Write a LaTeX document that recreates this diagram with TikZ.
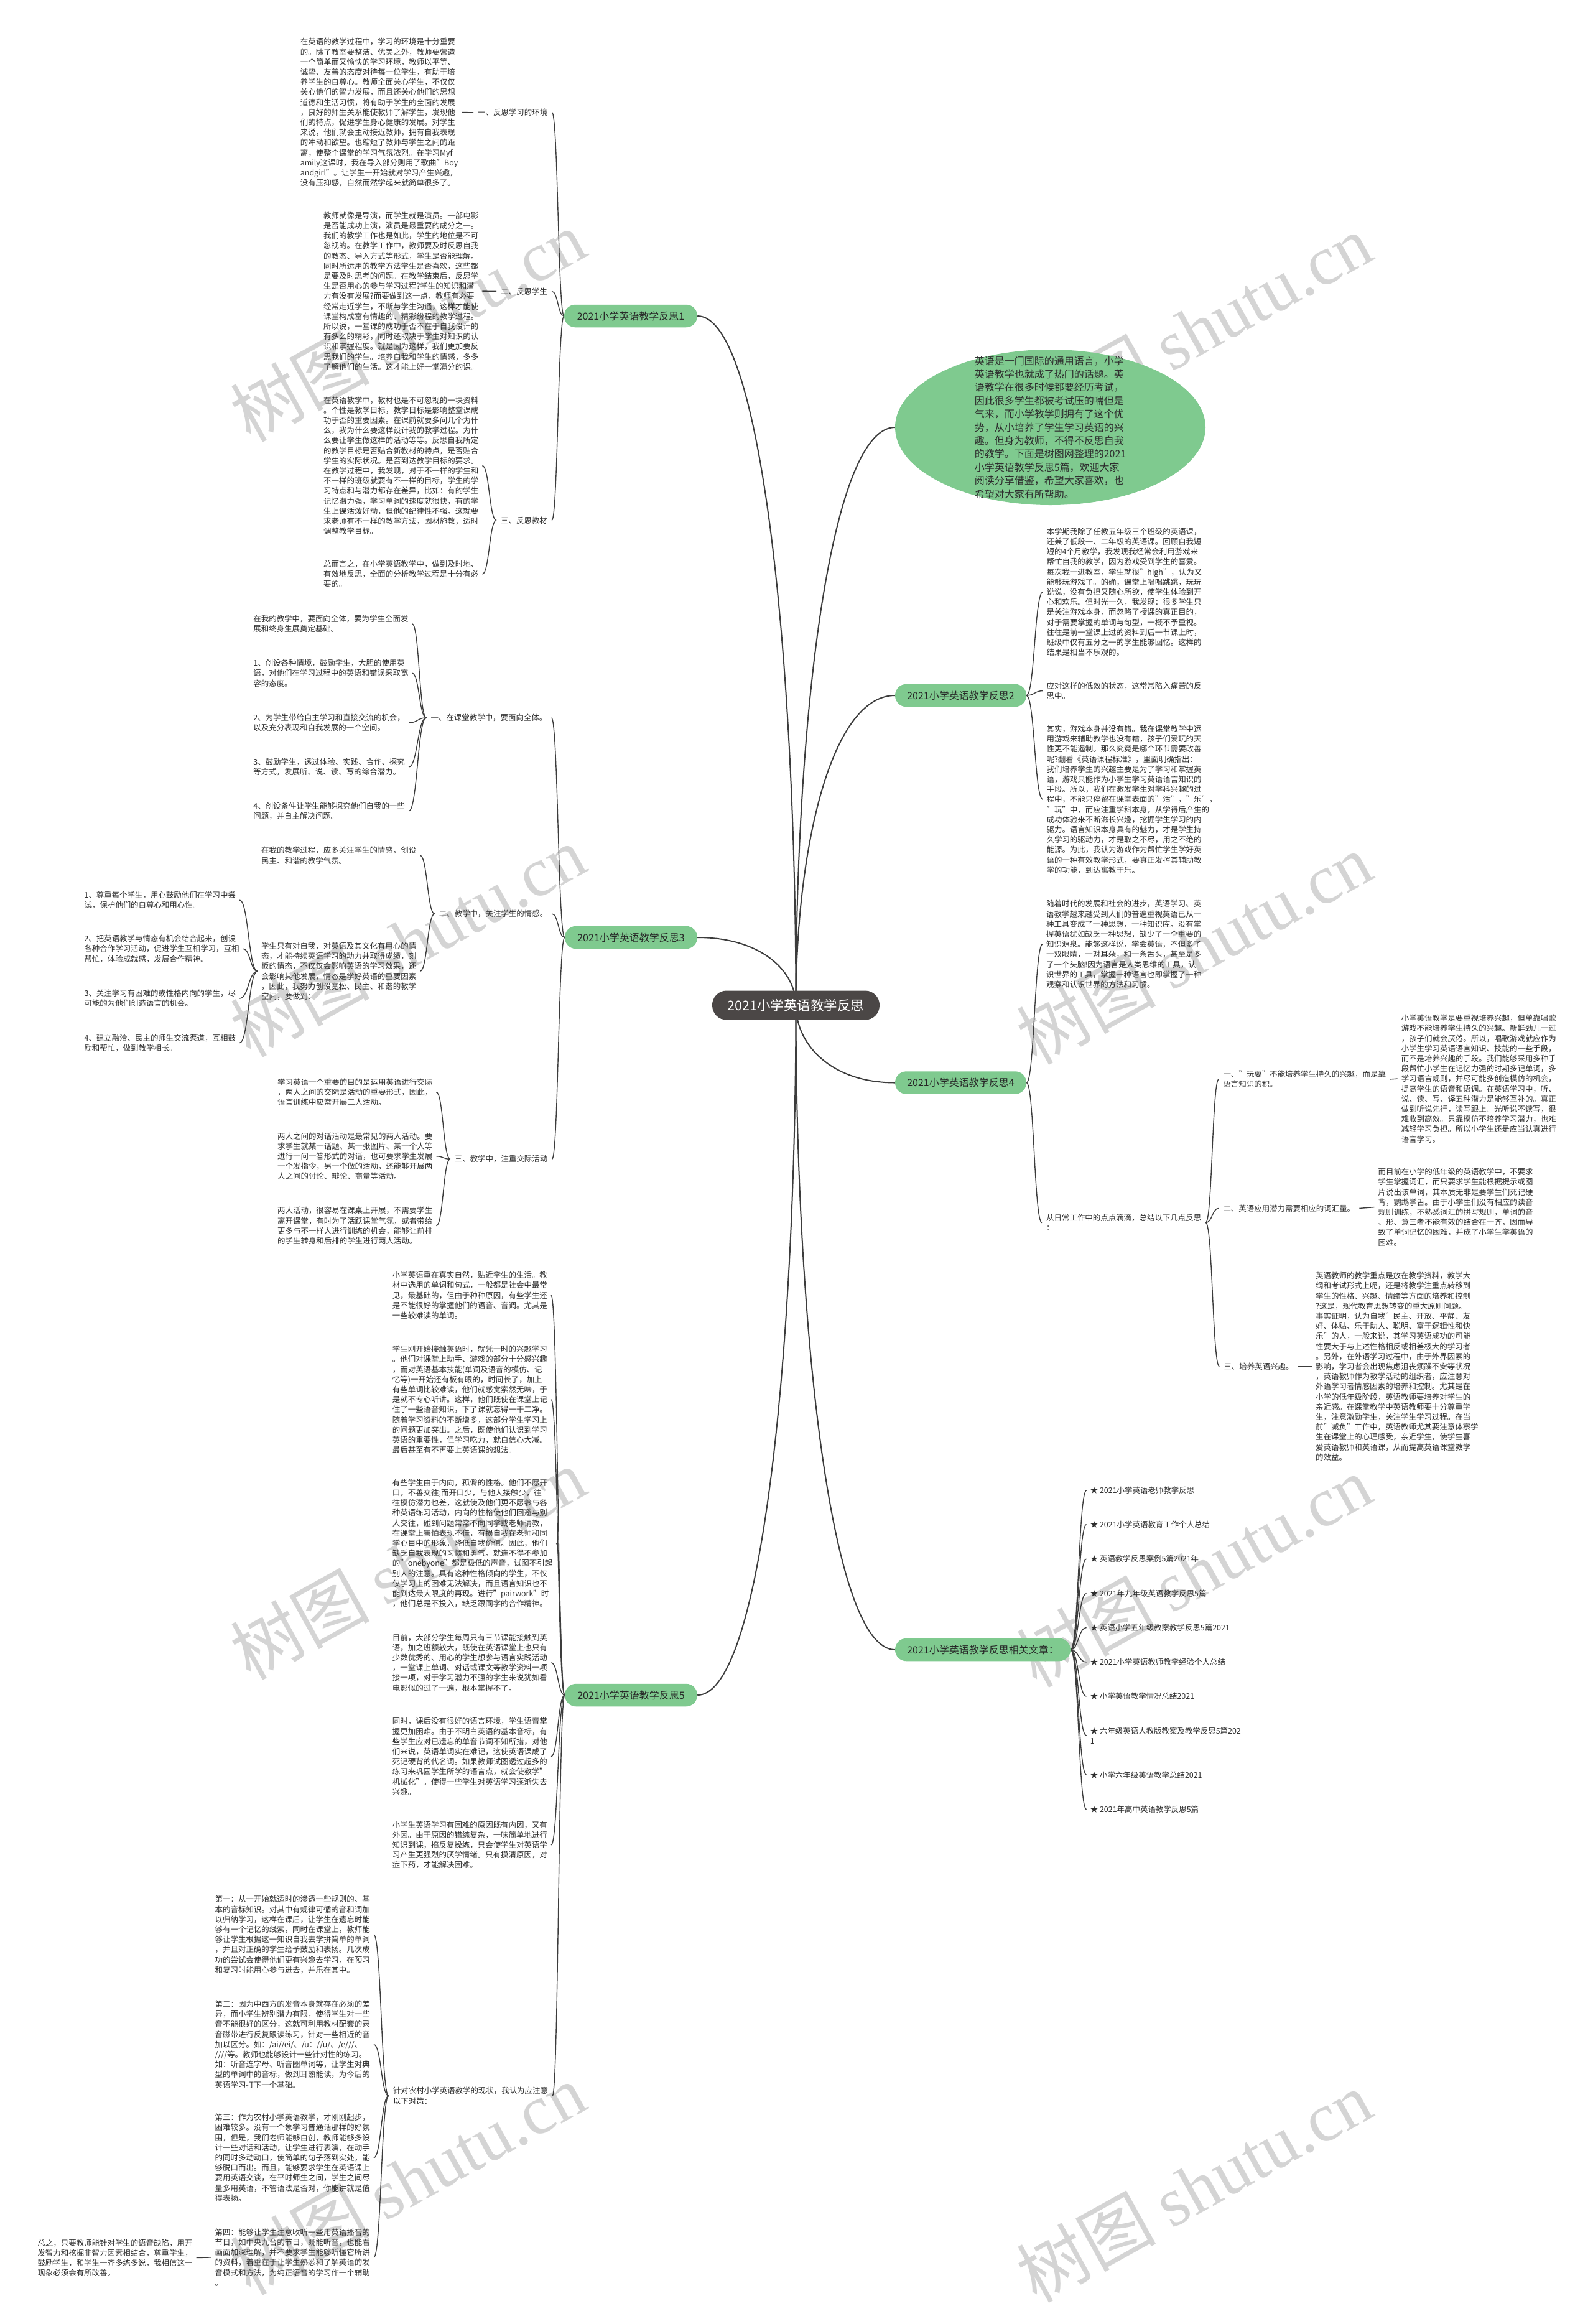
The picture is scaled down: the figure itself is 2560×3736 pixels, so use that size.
\documentclass[tikz,border=0pt]{standalone}
\usepackage{fontspec}
\setmainfont{Noto Sans CJK SC}
\newfontfamily\wmlatin{Liberation Serif}
\usetikzlibrary{calc,shapes.geometric}
\definecolor{grn}{RGB}{127,202,143}
\definecolor{txtc}{RGB}{45,45,45}
\definecolor{lnc}{RGB}{60,60,60}
\definecolor{ctrc}{RGB}{75,71,70}
\definecolor{wmc}{RGB}{212,212,212}
\pgfdeclarelayer{paper}\pgfdeclarelayer{lines}\pgfsetlayers{paper,lines,main}
\newcommand\blkfont{\fontsize{12.45}{16.2}\selectfont}
\newcommand\sublink[2]{\draw[subc] let \p1=(#1), \p2=(#2) in (\p1) .. controls ({(\x1+\x2)/2},\y1) and ({(\x1+\x2)/2},\y2) .. (\p2);}
\newcommand\mainlink[2]{\draw[mainc] let \p1=(#1), \p2=(#2) in (\p1) .. controls (\x1,{(\y1+\y2)/2}) and ({\x1+0.35*(\x2-\x1)},\y2) .. (\p2);}
\begin{document}
\begin{tikzpicture}[x=1pt,y=-1pt,
  txt/.style={font=\blkfont, text=txtc, align=left, inner xsep=6pt, inner ysep=1pt, anchor=west},
  lbl/.style={font=\blkfont, text=txtc, align=left, inner xsep=7pt, inner ysep=1pt, anchor=west},
  br/.style={fill=grn, rounded corners=18pt, minimum height=36.5pt, inner sep=0pt, font=\fontsize{16}{19}\selectfont, text=black!85},
  ctrnode/.style={fill=ctrc, text=white, rounded corners=23pt, minimum width=269pt, minimum height=47pt, inner sep=0pt, font=\fontsize{21.5}{24}\selectfont},
  mainc/.style={draw=lnc, line width=2pt},
  subc/.style={draw=lnc, line width=1.4pt},
  wmk/.style={text=wmc, font=\fontsize{112}{120}\selectfont, inner sep=0pt}]
\useasboundingbox (0,0) rectangle (2560,3736);
\begin{pgfonlayer}{paper}
\fill[white] (0,0) rectangle (2560,3736);
\node[wmk, rotate=29] (w1) at (655,524) {树图 {\wmlatin shutu.cn}};
\node[wmk, rotate=29] (w2) at (1919,530) {树图 {\wmlatin shutu.cn}};
\node[wmk, rotate=29] (w3) at (655,1513) {树图 {\wmlatin shutu.cn}};
\node[wmk, rotate=29] (w4) at (1919,1525) {树图 {\wmlatin shutu.cn}};
\node[wmk, rotate=29] (w5) at (655,2514) {树图 {\wmlatin shutu.cn}};
\node[wmk, rotate=29] (w6) at (1919,2526) {树图 {\wmlatin shutu.cn}};
\node[wmk, rotate=29] (w7) at (655,3503) {树图 {\wmlatin shutu.cn}};
\node[wmk, rotate=29] (w8) at (1919,3515) {树图 {\wmlatin shutu.cn}};
\end{pgfonlayer}

% centre and branches
\node[ctrnode] (c) at (1279.5,1616) {2021小学英语教学反思};
\node[ellipse, fill=grn, minimum width=499pt, minimum height=250pt, inner sep=0pt] (intro) at (1688.5,687) {};
\node[font=\fontsize{16}{21.4}\selectfont, text=txtc, align=left, inner sep=0pt] (introtxt) at (intro.center) {英语是一门国际的通用语言，小学\\英语教学也就成了热门的话题。英\\语教学在很多时候都要经历考试，\\因此很多学生都被考试压的喘但是\\气来，而小学教学则拥有了这个优\\势，从小培养了学生学习英语的兴\\趣。但身为教师，不得不反思自我\\的教学。下面是树图网整理的2021\\小学英语教学反思5篇，欢迎大家\\阅读分享借鉴，希望大家喜欢，也\\希望对大家有所帮助。};
\node[br, minimum width=214pt] (b1) at (1014,508) {2021小学英语教学反思1};
\node[br, minimum width=213pt] (b3) at (1014.5,1507) {2021小学英语教学反思3};
\node[br, minimum width=213pt] (b5) at (1014.5,2725) {2021小学英语教学反思5};
\node[br, minimum width=211pt] (b2) at (1544.5,1118) {2021小学英语教学反思2};
\node[br, minimum width=211pt] (b4) at (1544.5,1740.5) {2021小学英语教学反思4};
\node[br, minimum width=282pt] (b6) at (1580,2652) {2021小学英语教学反思相关文章：};

% ---------- branch 1
\node[lbl] (a1) at (761,180.8) {一、反思学习的环境};
\node[lbl] (a2) at (798,468.4) {二、反思学生};
\node[lbl] (a3) at (798,836.4) {三、反思教材};
\node[txt] (a1t) at (476.7,180.6) {在英语的教学过程中，学习的环境是十分重要\\的。除了教室要整洁、优美之外，教师要营造\\一个简单而又愉快的学习环境，教师以平等、\\诚挚、友善的态度对待每一位学生，有助于培\\养学生的自尊心。教师全面关心学生，不仅仅\\关心他们的智力发展，而且还关心他们的思想\\道德和生活习惯，将有助于学生的全面的发展\\，良好的师生关系能使教师了解学生，发现他\\们的特点，促进学生身心健康的发展。对学生\\来说，他们就会主动接近教师，拥有自我表现\\的冲动和欲望。也缩短了教师与学生之间的距\\离，使整个课堂的学习气氛浓烈。在学习Myf\\amily这课时，我在导入部分则用了歌曲"Boy\\andgirl"。让学生一开始就对学习产生兴趣，\\没有压抑感，自然而然学起来就简单很多了。};
\node[txt] (a2t) at (514,468.1) {教师就像是导演，而学生就是演员。一部电影\\是否能成功上演，演员是最重要的成分之一。\\我们的教学工作也是如此，学生的地位是不可\\忽视的。在教学工作中，教师要及时反思自我\\的教态、导入方式等形式，学生是否能理解。\\同时所运用的教学方法学生是否喜欢，这些都\\是要及时思考的问题。在教学结束后，反思学\\生是否用心的参与学习过程?学生的知识和潜\\力有没有发展?而要做到这一点，教师有必要\\经常走近学生，不断与学生沟通，这样才能使\\课堂构成富有情趣的、精彩纷程的教学过程。\\所以说，一堂课的成功于否不在于自我设计的\\有多么的精彩，同时还取决于学生对知识的认\\识和掌握程度。就是因为这样，我们更加要反\\思我们的学生。培养自我和学生的情感，多多\\了解他们的生活。这才能上好一堂满分的课。};
\node[txt] (a3t1) at (514,748.6) {在英语教学中，教材也是不可忽视的一块资料\\。个性是教学目标，教学目标是影响整堂课成\\功于否的重要因素。在课前就要多问几个为什\\么，我为什么要这样设计我的教学过程。为什\\么要让学生做这样的活动等等。反思自我所定\\的教学目标是否贴合新教材的特点，是否贴合\\学生的实际状况。是否到达教学目标的要求。\\在教学过程中，我发现，对于不一样的学生和\\不一样的班级就要有不一样的目标，学生的学\\习特点和与潜力都存在差异，比如：有的学生\\记忆潜力强，学习单词的速度就很快，有的学\\生上课活泼好动，但他的纪律性不强。这就要\\求老师有不一样的教学方法，因材施教，适时\\调整教学目标。};
\node[txt] (a3t2) at (514,922.9) {总而言之，在小学英语教学中，做到及时地、\\有效地反思，全面的分析教学过程是十分有必\\要的。};

% ---------- branch 3
\node[lbl] (b1l) at (685.4,1153.9) {一、在课堂教学中，要面向全体。};
\node[lbl] (b2l) at (698.7,1469) {二、教学中，关注学生的情感。};
\node[lbl] (b3l) at (723.7,1863.3) {三、教学中，注重交际活动};
\node[txt] (b1a) at (401.2,1002.7) {在我的教学中，要面向全体，要为学生全面发\\展和终身生展奠定基础。};
\node[txt] (b1b) at (401.2,1082.2) {1、创设各种情境，鼓励学生，大胆的使用英\\语，对他们在学习过程中的英语和错误采取宽\\容的态度。};
\node[txt] (b1c) at (401.2,1162) {2、为学生带给自主学习和直接交流的机会，\\以及充分表现和自我发展的一个空间。};
\node[txt] (b1d) at (401.2,1233) {3、鼓励学生，透过体验、实践、合作、探究\\等方式，发展听、说、读、写的综合潜力。};
\node[txt] (b1e) at (401.2,1304) {4、创设条件让学生能够探究他们自我的一些\\问题，并自主解决问题。};
\node[txt] (b2a) at (414,1375.2) {在我的教学过程，应多关注学生的情感，创设\\民主、和谐的教学气氛。};
\node[txt] (b2b) at (414,1561.3) {学生只有对自我，对英语及其文化有用心的情\\态，才能持续英语学习的动力并取得成绩，刻\\板的情态，不仅仅会影响英语的学习效果，还\\会影响其他发展，情态是学好英语的重要因素\\，因此，我努力创设宽松、民主、和谐的教学\\空间，要做到：};
\node[txt] (b2b1) at (129.3,1447) {1、尊重每个学生，用心鼓励他们在学习中尝\\试，保护他们的自尊心和用心性。};
\node[txt] (b2b2) at (129.3,1525.2) {2、把英语教学与情态有机会结合起来，创设\\各种合作学习活动，促进学生互相学习，互相\\帮忙，体验成就感，发展合作精神。};
\node[txt] (b2b3) at (129.3,1605) {3、关注学习有困难的或性格内向的学生，尽\\可能的为他们创造语言的机会。};
\node[txt] (b2b4) at (129.3,1676.5) {4、建立融洽、民主的师生交流渠道，互相鼓\\励和帮忙，做到教学相长。};
\node[txt] (b3a) at (440,1755.7) {学习英语一个重要的目的是运用英语进行交际\\，两人之间的交际是活动的重要形式，因此，\\语言训练中应常开展二人活动。};
\node[txt] (b3b) at (440,1858.7) {两人之间的对话活动是最常见的两人活动。要\\求学生就某一话题、某一张图片、某一个人等\\进行一问一答形式的对话，也可要求学生发展\\一个发指令，另一个做的活动，还能够开展两\\人之间的讨论、辩论、商量等活动。};
\node[txt] (b3c) at (440,1970.5) {两人活动，很容易在课桌上开展，不需要学生\\离开课堂，有时为了活跃课堂气氛，或者带给\\更多与不一样人进行训练的机会，能够让前排\\的学生转身和后排的学生进行两人活动。};

% ---------- branch 5
\node[txt] (c1) at (624.7,2082.4) {小学英语重在真实自然，贴近学生的生活。教\\材中选用的单词和句式，一般都是社会中最常\\见，最基础的，但由于种种原因，有些学生还\\是不能很好的掌握他们的语音、音调。尤其是\\一些较难读的单词。};
\node[txt] (c2) at (624.7,2249.8) {学生刚开始接触英语时，就凭一时的兴趣学习\\。他们对课堂上动手、游戏的部分十分感兴趣\\，而对英语基本技能(单词及语音的模仿、记\\忆等)一开始还有板有眼的，时间长了，加上\\有些单词比较难读，他们就感觉索然无味，于\\是就不专心听讲。这样，他们既使在课堂上记\\住了一些语音知识，下了课就忘得一干二净。\\随着学习资料的不断增多，这部分学生学习上\\的问题更加突出。之后，既使他们认识到学习\\英语的重要性，但学习吃力，就自信心大减。\\最后甚至有不再要上英语课的想法。};
\node[txt] (c3) at (624.7,2480.8) {有些学生由于内向，孤僻的性格。他们不愿开\\口，不善交往;而开口少，与他人接触少，往\\往模仿潜力也差，这就使及他们更不愿参与各\\种英语练习活动，内向的性格使他们回避与别\\人交往，碰到问题常常不向同学或老师请教，\\在课堂上害怕表现不佳，有损自我在老师和同\\学心目中的形象，降低自我价值。因此，他们\\缺乏自我表现的习惯和勇气。就连不得不参加\\的"onebyone"都是极低的声音，试图不引起\\别人的注意。具有这种性格倾向的学生，不仅\\仅学习上的困难无法解决，而且语言知识也不\\能到达最大限度的再现。进行"pairwork"时\\，他们总是不投入，缺乏跟同学的合作精神。};
\node[txt] (c4) at (624.7,2673) {目前，大部分学生每周只有三节课能接触到英\\语，加之班额较大，既使在英语课堂上也只有\\少数优秀的、用心的学生想参与语言实践活动\\，一堂课上单词、对话或课文等教学资料一项\\接一项，对于学习潜力不强的学生来说犹如看\\电影似的过了一遍，根本掌握不了。};
\node[txt] (c5) at (624.7,2823.7) {同时，课后没有很好的语言环境，学生语音掌\\握更加困难。由于不明白英语的基本音标，有\\些学生应对已遗忘的单音节词不知所措，对他\\们来说，英语单词实在难记，这使英语课成了\\死记硬背的代名词。如果教师试图透过超多的\\练习来巩固学生所学的语言点，就会使教学"\\机械化"。使得一些学生对英语学习逐渐失去\\兴趣。};
\node[txt] (c6) at (624.7,2965.8) {小学生英语学习有困难的原因既有内因，又有\\外因。由于原因的错综复杂，一味简单地进行\\知识到课，搞反复操练，只会使学生对英语学\\习产生更强烈的厌学情绪。只有摸清原因，对\\症下药，才能解决困难。};
\node[lbl] (c7l) at (624.8,3369.3) {针对农村小学英语教学的现状，我认为应注意\\以下对策：};
\node[txt] (c7a) at (339.5,3110) {第一：从一开始就适时的渗透一些规则的、基\\本的音标知识。对其中有规律可循的音和词加\\以归纳学习，这样在课后，让学生在遗忘时能\\够有一个记忆的线索，同时在课堂上，教师能\\够让学生根据这一知识自我去学拼简单的单词\\，并且对正确的学生给予鼓励和表扬。几次成\\功的尝试会使得他们更有兴趣去学习，在预习\\和复习时能用心参与进去，并乐在其中。};
\node[txt] (c7b) at (339.5,3286.5) {第二：因为中西方的发音本身就存在必须的差\\异，而小学生辨别潜力有限，使得学生对一些\\音不能很好的区分，这就可利用教材配套的录\\音磁带进行反复跟读练习，针对一些相近的音\\加以区分。如：/ai//ei/、/u：//u/、/e///、\\////等。教师也能够设计一些针对性的练习。\\如：听音连字母、听音圈单词等，让学生对典\\型的单词中的音标，做到耳熟能读，为今后的\\英语学习打下一个基础。};
\node[txt] (c7c) at (339.5,3468.7) {第三：作为农村小学英语教学，才刚刚起步，\\困难较多。没有一个象学习普通话那样的好氛\\围，但是，我们老师能够自创，教师能够多设\\计一些对话和活动，让学生进行表演，在动手\\的同时多动动口，使简单的句子落到实处，能\\够脱口而出。而且，能够要求学生在英语课上\\要用英语交谈，在平时师生之间，学生之间尽\\量多用英语，不管语法是否对，你能讲就是值\\得表扬。};
\node[txt] (c7d) at (339.5,3628.9) {第四：能够让学生注意收听一些用英语播音的\\节目，如中央九台的节目，既能听音，也能看\\画面加深理解，并不要求学生能够听懂它所讲\\的资料，着重在于让学生熟悉和了解英语的发\\音模式和方法，为纯正语音的学习作一个辅助\\。};
\node[txt] (c8) at (54.3,3629.5) {总之，只要教师能针对学生的语音缺陷，用开\\发智力和挖掘非智力因素相结合，尊重学生，\\鼓励学生，和学生一齐多练多说，我相信这一\\现象必须会有所改善。};

% ---------- branch 2
\node[txt] (d1) at (1676.4,951.7) {本学期我除了任教五年级三个班级的英语课，\\还兼了低段一、二年级的英语课。回顾自我短\\短的4个月教学，我发现我经常会利用游戏来\\帮忙自我的教学，因为游戏受到学生的喜爱。\\每次我一进教室，学生就很"high"，认为又\\能够玩游戏了。的确，课堂上唱唱跳跳，玩玩\\说说，没有负担又随心所欲，使学生体验到开\\心和欢乐。但时光一久，我发现：很多学生只\\是关注游戏本身，而忽略了授课的真正目的，\\对于需要掌握的单词与句型，一概不予重视。\\往往是前一堂课上过的资料到后一节课上时，\\班级中仅有五分之一的学生能够回忆。这样的\\结果是相当不乐观的。};
\node[txt] (d2) at (1676.4,1110.6) {应对这样的低效的状态，这常常陷入痛苦的反\\思中。};
\node[txt] (d3) at (1676.4,1285.2) {其实，游戏本身并没有错。我在课堂教学中运\\用游戏来辅助教学也没有错，孩子们爱玩的天\\性更不能遏制。那么究竟是哪个环节需要改善\\呢?翻看《英语课程标准》，里面明确指出：\\我们培养学生的兴趣主要是为了学习和掌握英\\语，游戏只能作为小学生学习英语语言知识的\\手段。所以，我们在激发学生对学科兴趣的过\\程中，不能只停留在课堂表面的"活"，"乐"，\\"玩"中，而应注重学科本身，从学得后产生的\\成功体验来不断滋长兴趣，挖掘学生学习的内\\驱力。语言知识本身具有的魅力，才是学生持\\久学习的驱动力，才是取之不尽，用之不绝的\\能源。为此，我认为游戏作为帮忙学生学好英\\语的一种有效教学形式，要真正发挥其辅助教\\学的功能，到达寓教于乐。};

% ---------- branch 4
\node[txt] (e1) at (1676,1517.9) {随着时代的发展和社会的进步，英语学习、英\\语教学越来越受到人们的普遍重视英语已从一\\种工具变成了一种思想，一种知识库。没有掌\\握英语犹如缺乏一种思想，缺少了一个重要的\\知识源泉。能够这样说，学会英语，不但多了\\一双眼睛，一对耳朵，和一条舌头，甚至是多\\了一个头脑!因为语言是人类思维的工具，认\\识世界的工具，掌握一种语言也即掌握了一种\\观察和认识世界的方法和习惯。};
\node[lbl] (e2l) at (1675,1965.5) {从日常工作中的点点滴滴，总结以下几点反思\\：};
\node[lbl] (e2a) at (1959.3,1734.9) {一、"玩耍"不能培养学生持久的兴趣，而是靠\\语言知识的积。};
\node[lbl] (e2b) at (1959.3,1942.4) {二、英语应用潜力需要相应的词汇量。};
\node[lbl] (e2c) at (1960.3,2196.7) {三、培养英语兴趣。};
\node[txt] (e2at) at (2246.6,1734.1) {小学英语教学是要重视培养兴趣，但单靠唱歌\\游戏不能培养学生持久的兴趣。新鲜劲儿一过\\，孩子们就会厌倦。所以，唱歌游戏就应作为\\小学生学习英语语言知识、技能的一些手段，\\而不是培养兴趣的手段。我们能够采用多种手\\段帮忙小学生在记忆力强的时期多记单词，多\\学习语言规则，并尽可能多创造模仿的机会，\\提高学生的语音和语调。在英语学习中，听、\\说、读、写、译五种潜力是能够互补的。真正\\做到听说先行，读写跟上。光听说不读写，很\\难收到高效。只靠模仿不培养学习潜力，也难\\减轻学习负担。所以小学生还是应当认真进行\\语言学习。};
\node[txt] (e2bt) at (2209.4,1940.6) {而目前在小学的低年级的英语教学中，不要求\\学生掌握词汇，而只要求学生能根据提示或图\\片说出该单词，其本质无非是要学生们死记硬\\背，鹦鹉学舌。由于小学生们没有相应的读音\\规则训练，不熟悉词汇的拼写规则，单词的音\\、形、意三者不能有效的结合在一齐，因而导\\致了单词记忆的困难，并成了小学生学英语的\\困难。};
\node[txt] (e2ct) at (2109,2196.8) {英语教师的教学重点是放在教学资料，教学大\\纲和考试形式上呢，还是将教学注重点转移到\\学生的性格、兴趣、情绪等方面的培养和控制\\?这是，现代教育思想转变的重大原则问题。\\事实证明，认为自我"民主、开放、平静、友\\好、体贴、乐于助人、聪明、富于逻辑性和快\\乐"的人，一般来说，其学习英语成功的可能\\性要大于与上述性格相反或相差极大的学习者\\。另外，在外语学习过程中，由于外界因素的\\影响，学习者会出现焦虑沮丧烦躁不安等状况\\，英语教师作为教学活动的组织者，应注意对\\外语学习者情感因素的培养和控制。尤其是在\\小学的低年级阶段，英语教师要培养对学生的\\亲近感。在课堂教学中英语教师要十分尊重学\\生，注意激励学生，关注学生学习过程。在当\\前"减负"工作中，英语教师尤其要注意体察学\\生在课堂上的心理感受，亲近学生，使学生喜\\爱英语教师和英语课，从而提高英语课堂教学\\的效益。};

% ---------- related articles
\node[txt] (f1) at (1746.6,2395.9) {★ 2021小学英语老师教学反思};
\node[txt] (f2) at (1746.6,2450.6) {★ 2021小学英语教育工作个人总结};
\node[txt] (f3) at (1746.6,2506.1) {★ 英语教学反思案例5篇2021年};
\node[txt] (f4) at (1746.6,2561.6) {★ 2021年九年级英语教学反思5篇};
\node[txt] (f5) at (1746.6,2616.4) {★ 英语小学五年级教案教学反思5篇2021};
\node[txt] (f6) at (1746.6,2671.9) {★ 2021小学英语教师教学经验个人总结};
\node[txt] (f7) at (1746.6,2727) {★ 小学英语教学情况总结2021};
\node[txt] (f8) at (1746.6,2790.1) {★ 六年级英语人教版教案及教学反思5篇202\\1};
\node[txt] (f9) at (1746.6,2853.2) {★ 小学六年级英语教学总结2021};
\node[txt] (f10) at (1746.6,2908.6) {★ 2021年高中英语教学反思5篇};

% ---------- connectors
\begin{pgfonlayer}{lines}
\mainlink{c.center}{intro.west}
\mainlink{c.center}{b1.east}
\mainlink{c.center}{b3.east}
\mainlink{c.center}{b5.east}
\mainlink{c.center}{b2.west}
\mainlink{c.center}{b4.west}
\mainlink{c.center}{b6.west}
\sublink{b1.west}{a1.east}
\sublink{b1.west}{a2.east}
\sublink{b1.west}{a3.east}
\sublink{a1.west}{a1t.east}
\sublink{a2.west}{a2t.east}
\sublink{a3.west}{a3t1.east}
\sublink{a3.west}{a3t2.east}
\sublink{b3.west}{b1l.east}
\sublink{b3.west}{b2l.east}
\sublink{b3.west}{b3l.east}
\foreach \k in {b1a,b1b,b1c,b1d,b1e}{\sublink{b1l.west}{\k.east}}
\sublink{b2l.west}{b2a.east}
\sublink{b2l.west}{b2b.east}
\foreach \k in {b2b1,b2b2,b2b3,b2b4}{\sublink{b2b.west}{\k.east}}
\foreach \k in {b3a,b3b,b3c}{\sublink{b3l.west}{\k.east}}
\foreach \k in {c1,c2,c3,c4,c5,c6,c7l}{\sublink{b5.west}{\k.east}}
\foreach \k in {c7a,c7b,c7c,c7d}{\sublink{c7l.west}{\k.east}}
\sublink{c7d.west}{c8.east}
\foreach \k in {d1,d2,d3}{\sublink{b2.east}{\k.west}}
\sublink{b4.east}{e1.west}
\sublink{b4.east}{e2l.west}
\foreach \k in {e2a,e2b,e2c}{\sublink{e2l.east}{\k.west}}
\sublink{e2a.east}{e2at.west}
\sublink{e2b.east}{e2bt.west}
\sublink{e2c.east}{e2ct.west}
\foreach \k in {f1,f2,f3,f4,f5,f6,f7,f8,f9,f10}{\sublink{b6.east}{\k.west}}
\end{pgfonlayer}
\end{tikzpicture}
\end{document}
